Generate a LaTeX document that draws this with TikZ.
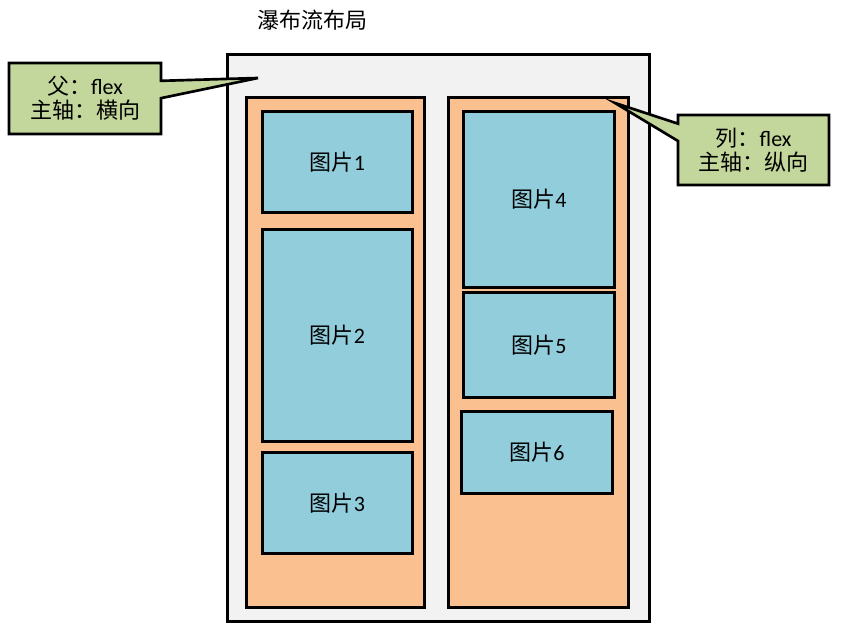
\documentclass[tikz,border=0pt]{standalone}
\usepackage{fontspec}
\setmainfont{Carlito}
\newfontfamily\cjk{Noto Sans CJK SC}
\usepackage{tikz}
\usetikzlibrary{shapes.callouts,positioning}
\definecolor{pagegray}  {HTML}{F2F2F2}
\definecolor{colorange} {HTML}{FAC090}
\definecolor{imgblue}   {HTML}{92CDDC}
\definecolor{notegreen} {HTML}{C3D69B}
\tikzset{
  pagebox/.style ={draw, line width=2pt, fill=pagegray, anchor=north west,
                   inner sep=0pt, minimum width=316.5pt, minimum height=425.25pt},
  colbox/.style  ={draw, line width=2pt, fill=colorange, anchor=north west,
                   inner sep=0pt, minimum width=#1, minimum height=382.5pt},
  colbox/.default=133.5pt,
  imgbox/.style  ={draw, line width=2pt, fill=imgblue, anchor=north west,
                   inner sep=0pt, minimum width=#1,
                   font=\fontsize{16.5}{18}\selectfont},
  imgbox/.default=112.5pt,
  notebox/.style ={rectangle callout, draw, line width=2pt, fill=notegreen,
                   inner sep=0pt, align=center, callout pointer width=13pt,
                   font=\fontsize{16.5}{18}\selectfont},
}

\begin{document}
\begin{tikzpicture}[x=0.75pt,y=-0.75pt]
  \useasboundingbox (0,0) rectangle (842,632);
  \node[font=\fontsize{16.5}{18}\selectfont] (title) at (312,20) {\cjk 瀑布流布局};
  \node[pagebox] (page) at (226,53) {};
  %% columns
  \node[colbox] (colL) at (245,96) {};
  \node[colbox=135pt] (colR) at (447,96) {};
  %% pictures, left column
  \node[imgbox, minimum height=75.75pt] (img1) at (261,110) {{\cjk 图片}1};
  \node[imgbox, minimum height=159pt] (img2) at (261,228) {{\cjk 图片}2};
  \node[imgbox, minimum height=75.75pt] (img3) at (261,451) {{\cjk 图片}3};
  %% pictures, right column
  \node[imgbox=113.25pt, minimum height=132pt] (img4) at (462,110) {{\cjk 图片}4};
  \node[imgbox=113.25pt, minimum height=78.75pt] (img5) at (462,291) {{\cjk 图片}5};
  \node[imgbox=113.25pt, minimum height=61.5pt] (img6) at (460,410) {{\cjk 图片}6};
  %% notes
  \coordinate (tipL) at (258,78);
  \coordinate (tipR) at (615,103);
  \node[notebox, minimum width=114pt, minimum height=53.25pt,
        callout absolute pointer={(tipL)}] (noteL) at (85,98.5)
        {{\cjk 父：}flex\\{\cjk 主轴：横向}};
  \node[notebox, minimum width=113.25pt, minimum height=52.5pt,
        callout absolute pointer={(tipR)}] (noteR) at (753.5,150)
        {{\cjk 列：}flex\\{\cjk 主轴：纵向}};
\end{tikzpicture}
\end{document}
